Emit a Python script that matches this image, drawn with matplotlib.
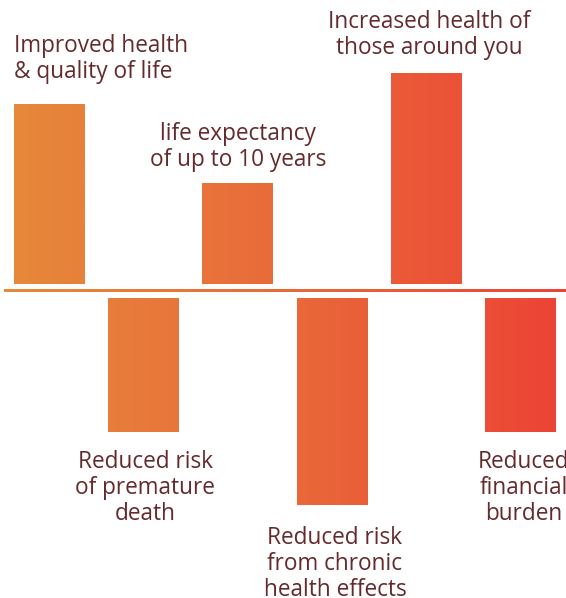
import numpy as np
import matplotlib
matplotlib.use("Agg")
import matplotlib.pyplot as plt
from matplotlib.colors import LinearSegmentedColormap

# benefits, alternating above / below the line
labels = [
    "Improved health\n& quality of life",
    "Reduced risk\nof premature\ndeath",
    "life expectancy\nof up to 10 years",
    "Reduced risk\nfrom chronic\nhealth effects",
    "Increased health of\nthose around you",
    "Reduced\nfinancial\nburden",
]
heights = [180, 134, 101, 207, 211, 134]
direction = [1, -1, 1, -1, 1, -1]

plt.rcParams["font.family"] = ["Open Sans", "DejaVu Sans"]

cmap = LinearSegmentedColormap.from_list("warm", ["#E68A3A", "#E96A3A", "#EC4335"])
text_color = "#652A2C"

fig = plt.figure(figsize=(5.66, 5.98), dpi=100)
ax = fig.add_axes([0, 0, 1, 1])
x0, x1 = -0.52, 5.48
ax.axis("off")

width = 0.75
gap = 7

def grad_color(xs):
    return cmap((np.asarray(xs) - x0) / (x1 - x0))

for i, (h, d) in enumerate(zip(heights, direction)):
    left, right = i - width / 2, i + width / 2
    img = grad_color(np.linspace(left, right, 64))[np.newaxis, :, :]
    if d > 0:
        y_lo, y_hi = gap, gap + h
    else:
        y_lo, y_hi = -gap - h, -gap
    ax.imshow(img, extent=[left, right, y_lo, y_hi], aspect="auto",
              interpolation="bilinear", zorder=2)

# gradient baseline
lx = np.linspace(-0.478, x1, 300)
ax.imshow(grad_color(lx)[np.newaxis, :, :], extent=[lx[0], lx[-1], -1.3, 1.3],
          aspect="auto", interpolation="bilinear", zorder=3)
ax.set_xlim(x0, x1)
ax.set_ylim(-307, 291)

# label anchors: x centre, offset from bar end, alignment
label_pos = [
    (-0.37, 45, "left"),
    (1.02, -56, "center"),
    (2.0, 36, "center"),
    (3.03, -59, "center"),
    (4.03, 38, "center"),
    (5.03, -56, "center"),
]
for lab, (tx, off, ha), h, d in zip(labels, label_pos, heights, direction):
    end = d * (gap + h)
    ax.text(tx, end + off, lab, ha=ha, va="center", multialignment=ha,
            fontsize=16.3, color=text_color, linespacing=1.13, zorder=4)

fig.savefig("out.png", dpi=100)
